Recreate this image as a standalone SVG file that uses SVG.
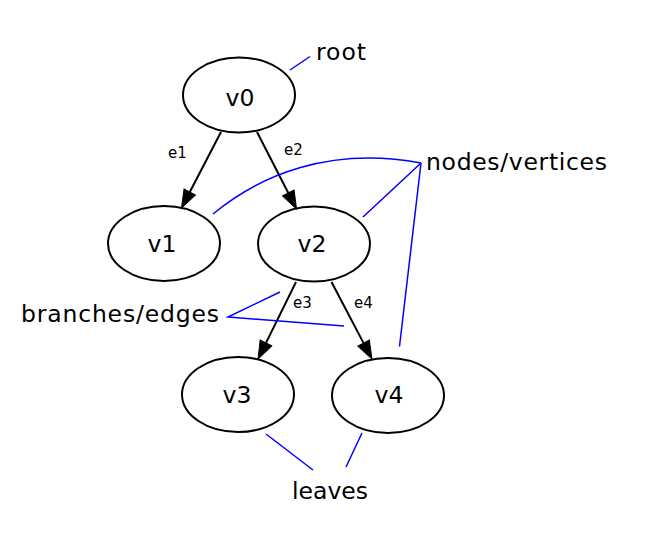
<svg xmlns="http://www.w3.org/2000/svg" width="654" height="544" viewBox="0 0 654 544">
<style>
.node ellipse{fill:none;stroke:#000;stroke-width:2}
text{font-family:"DejaVu Sans",sans-serif;fill:#000}
.nl{font-size:23.5px;text-anchor:middle}
.lab{font-size:23.5px}
.el{font-size:15px}
.edge{stroke:#000;stroke-width:2;fill:none;marker-end:url(#arr)}
.ann{stroke:#0000ff;stroke-width:1.5;fill:none}
</style>
<defs>
<marker id="arr" markerUnits="userSpaceOnUse" markerWidth="20" markerHeight="16" viewBox="0 -8 20 16" refX="0" refY="0" orient="auto" overflow="visible">
<path d="M0,-6.5 L18,0 L0,6.5 z" fill="#000" stroke="#000" stroke-width="1"/>
</marker>
</defs>
<rect width="654" height="544" fill="#fff"/>
<g id="connectors">
<path class="edge" d="M221,132 L189.8,192"/>
<path class="edge" d="M257,132 L288.3,193"/>
<path class="edge" d="M296,282 L266,342.9"/>
<path class="edge" d="M331.5,282 L363.6,343.1"/>
<text class="el" x="168" y="158">e1</text>
<text class="el" x="284" y="155">e2</text>
<text class="el" x="293" y="308">e3</text>
<text class="el" x="354" y="308">e4</text>
</g>
<g id="annotations">
<path class="ann" d="M290,70 L310,56.5"/>
<path class="ann" d="M213,214 C260,175 330,146 421,163"/>
<path class="ann" d="M421,163 L363,217"/>
<path class="ann" d="M421,163 L399.5,346.5"/>
<path class="ann" d="M280,292 L228,317 L344,326"/>
<path class="ann" d="M266,434 L313,470"/>
<path class="ann" d="M362,433 L346,467"/>
<text class="lab" x="316" y="60" textLength="50" lengthAdjust="spacing">root</text>
<text class="lab" x="426" y="170" textLength="181" lengthAdjust="spacing">nodes/vertices</text>
<text class="lab" x="21" y="322" textLength="198" lengthAdjust="spacing">branches/edges</text>
<text class="lab" x="292" y="499" textLength="76" lengthAdjust="spacing">leaves</text>
</g>
<g id="v0" class="node"><ellipse cx="239" cy="95" rx="56" ry="37.5"/><text class="nl" x="240" y="106">v0</text></g>
<g id="v1" class="node"><ellipse cx="164" cy="243.5" rx="56" ry="37.5"/><text class="nl" x="162" y="252">v1</text></g>
<g id="v2" class="node"><ellipse cx="314" cy="244" rx="56" ry="37.5"/><text class="nl" x="312" y="252">v2</text></g>
<g id="v3" class="node"><ellipse cx="238" cy="394.5" rx="56" ry="37.5"/><text class="nl" x="237" y="403">v3</text></g>
<g id="v4" class="node"><ellipse cx="388" cy="395.5" rx="56" ry="37.5"/><text class="nl" x="389" y="403">v4</text></g>
</svg>
